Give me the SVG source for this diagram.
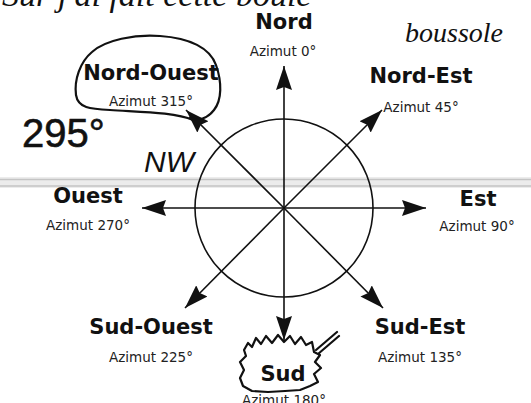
<svg xmlns="http://www.w3.org/2000/svg" width="531" height="403" viewBox="0 0 531 403">
<style>
.big{font-family:"DejaVu Sans","Liberation Sans",sans-serif;font-weight:bold;font-size:21px;fill:#111;text-anchor:middle}
.small{font-family:"DejaVu Sans","Liberation Sans",sans-serif;font-size:13.5px;fill:#222;text-anchor:middle}
.ln{stroke:#111;stroke-width:1.6;fill:none}
.hand{font-family:"Liberation Serif",serif;font-style:italic;fill:#111}
.ink{stroke:#111;stroke-width:2.2;fill:none;stroke-linecap:round;stroke-linejoin:round}
</style>
<defs>
<marker id="ah" viewBox="0 0 24 16" refX="24" refY="8" markerWidth="24" markerHeight="16" markerUnits="userSpaceOnUse" orient="auto">
<path d="M0,0 L24,8 L0,16 L3,8 Z" fill="#111"/>
</marker>
</defs>
<rect width="531" height="403" fill="#fff"/>
<g id="scan-band">
<rect x="0" y="177" width="531" height="11" fill="#ececec"/>
<line x1="0" y1="179.5" x2="531" y2="179.5" stroke="#c4c4c4" stroke-width="1.5"/>
<line x1="0" y1="186" x2="531" y2="186" stroke="#c4c4c4" stroke-width="1.5"/>
</g>
<g id="rose">
<circle cx="284" cy="208" r="89" class="ln"/>
</g>
<g id="connectors" class="ln">
<line x1="284" y1="208" x2="284" y2="66" marker-end="url(#ah)"/>
<line x1="284" y1="208" x2="284" y2="340" marker-end="url(#ah)"/>
<line x1="284" y1="208" x2="426" y2="208" marker-end="url(#ah)"/>
<line x1="284" y1="208" x2="142" y2="208" marker-end="url(#ah)"/>
<line x1="284" y1="208" x2="382" y2="110" marker-end="url(#ah)"/>
<line x1="284" y1="208" x2="186" y2="110" marker-end="url(#ah)"/>
<line x1="284" y1="208" x2="383" y2="308" marker-end="url(#ah)"/>
<line x1="284" y1="208" x2="185" y2="308" marker-end="url(#ah)"/>
</g>
<g id="nord"><text class="big" x="284" y="29">Nord</text><text class="small" x="283" y="56">Azimut 0°</text></g>
<g id="nord-ouest"><text class="big" x="151" y="80">Nord-Ouest</text><text class="small" x="151" y="106">Azimut 315°</text></g>
<g id="nord-est"><text class="big" x="421" y="83">Nord-Est</text><text class="small" x="421" y="112">Azimut 45°</text></g>
<g id="ouest"><text class="big" x="88" y="203">Ouest</text><text class="small" x="88" y="230">Azimut 270°</text></g>
<g id="est"><text class="big" x="478" y="206">Est</text><text class="small" x="477" y="231">Azimut 90°</text></g>
<g id="sud-ouest"><text class="big" x="151" y="334">Sud-Ouest</text><text class="small" x="151" y="362">Azimut 225°</text></g>
<g id="sud-est"><text class="big" x="420" y="334">Sud-Est</text><text class="small" x="420" y="362">Azimut 135°</text></g>
<g id="sud"><text class="big" x="283" y="381">Sud</text><text class="small" x="284" y="405">Azimut 180°</text></g>
<g id="annotations">
<text class="hand" x="2" y="6" font-size="34">Sur j'ai fait cette boule</text>
<text class="hand" x="405" y="42" font-size="28">boussole</text>
<text x="22" y="147" font-family="Liberation Sans,sans-serif" font-size="40" fill="#111" stroke="#111" stroke-width="0.6">295°</text>
<text x="144" y="172" font-family="Liberation Sans,sans-serif" font-style="italic" font-size="30" fill="#111">NW</text>
<path class="ink" d="M193,120 C175,112 140,112 110,110 C90,109 78,108 76,95 C74,80 80,62 92,52 C105,40 135,34 160,36 C190,38 210,48 216,65 C222,82 222,100 214,110 C207,119 198,121 190,118"/>
<path class="ink" stroke-width="1.8" d="M244,350 L248,343 L252,347 L256,338 L261,344 L266,336 L272,343 L278,335 L284,342 L290,336 L295,344 L301,337 L306,345 L312,342 L314,352 L320,355 L315,362 L321,368 L314,374 L318,382 L310,386 L300,390 L285,391 L268,392 L252,391 L243,386 L240,378 L244,370 L240,362 L246,356 Z M316,350 L337,332 M318,354 L339,336"/>
</g>
</svg>
